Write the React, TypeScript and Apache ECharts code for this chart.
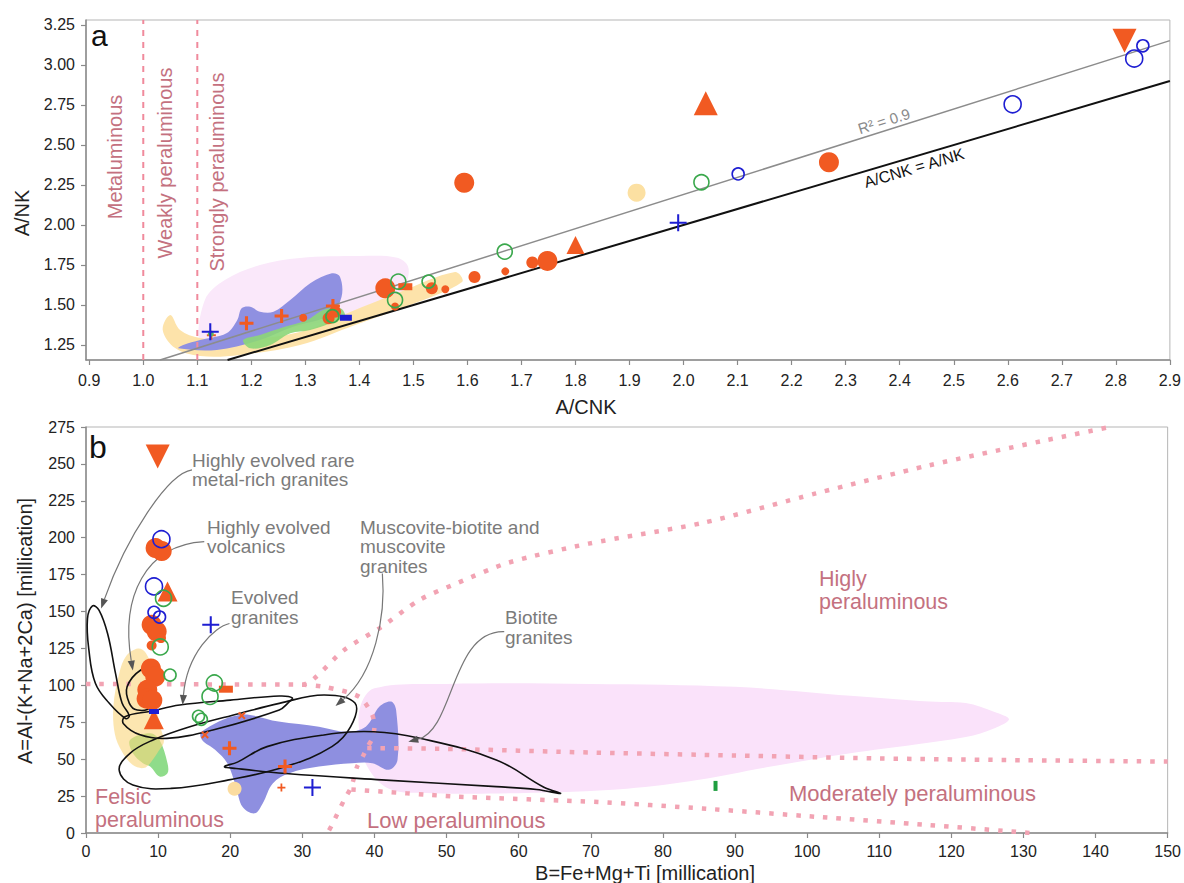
import React, { useEffect, useRef } from 'react';
import * as echarts from 'echarts';

// ================= Panel a : A/CNK vs A/NK =================
const aXTicks = [0.9, 1.0, 1.1, 1.2, 1.3, 1.4, 1.5, 1.6, 1.7, 1.8, 1.9, 2.0, 2.1, 2.2, 2.3, 2.4, 2.5, 2.6, 2.7, 2.8, 2.9];
const aYTicks = [1.25, 1.5, 1.75, 2.0, 2.25, 2.5, 2.75, 3.0, 3.25];

const aMetaBoundary = [[1.0, 1.156], [1.0, 3.281]];
const aStrongBoundary = [[1.1, 1.156], [1.1, 3.281]];
const aIdentityLine = [[1.156, 1.156], [2.9, 2.9]];
const aRegressionLine = [[1.031, 1.156], [2.9, 3.152]];

const aPinkField = [[1.105, 1.25], [1.114, 1.531], [1.151, 1.656], [1.216, 1.75], [1.29, 1.794], [1.401, 1.806], [1.47, 1.795], [1.49, 1.74], [1.487, 1.64], [1.466, 1.54], [1.346, 1.406], [1.216, 1.313], [1.142, 1.231]];
const aYellowField = [[1.05, 1.4375], [1.068, 1.344], [1.105, 1.294], [1.179, 1.281], [1.29, 1.331], [1.383, 1.456], [1.475, 1.581], [1.577, 1.706], [1.59, 1.644], [1.494, 1.5], [1.392, 1.375], [1.29, 1.25], [1.179, 1.1875], [1.105, 1.181], [1.059, 1.231], [1.036, 1.344]];
const aBlueField = [[1.065, 1.229], [1.136, 1.219], [1.216, 1.281], [1.277, 1.364], [1.346, 1.438], [1.367, 1.552], [1.364, 1.677], [1.349, 1.698], [1.309, 1.636], [1.272, 1.531], [1.241, 1.458], [1.216, 1.458], [1.198, 1.489], [1.182, 1.479], [1.174, 1.406], [1.154, 1.323], [1.105, 1.281], [1.074, 1.25]];
const aGreenField = [[1.185, 1.281], [1.198, 1.229], [1.235, 1.25], [1.272, 1.323], [1.309, 1.344], [1.346, 1.386], [1.373, 1.431], [1.364, 1.481], [1.333, 1.469], [1.303, 1.406], [1.259, 1.361], [1.216, 1.313]];

const aOrangeCircleL = [[1.594, 2.264], [2.269, 2.392], [1.448, 1.604], [1.748, 1.775]];
const aOrangeCircleM = [[1.534, 1.604], [1.72, 1.765], [1.613, 1.675], [1.343, 1.417], [1.355, 1.458]];
const aOrangeCircleS = [[1.67, 1.71], [1.559, 1.598], [1.466, 1.49], [1.296, 1.42]];
const aOrangeTriangleL = [[2.041, 2.76]];
const aOrangeTriangleS = [[1.80, 1.875]];
const aOrangeDownTriangle = [[2.816, 3.152]];
const aOrangePlus = [[1.191, 1.386], [1.256, 1.431], [1.351, 1.494]];
const aOrangePlusS = [[1.126, 1.31]];
const aOrangeBar = [[1.485, 1.614]];
const aBluePlus = [[1.99, 2.014], [1.124, 1.333]];
const aBlueBar = [[1.375, 1.42]];
const aGreenOpenL = [[1.472, 1.646], [1.466, 1.531], [1.669, 1.833], [2.033, 2.267]];
const aGreenOpenS = [[1.528, 1.646], [1.35, 1.43]];
const aGreenDot = [[1.125, 1.32]];
const aBlueOpenL = [[2.609, 2.754], [2.834, 3.04]];
const aBlueOpenS = [[2.101, 2.319], [2.85, 3.12]];
const aYellowDot = [[1.913, 2.202]];

// ================= Panel b : B vs A (millication) =================
const bPinkField = [[40, 98], [50, 101], [70, 101], [90, 99], [106, 93], [117, 89], [122, 88], [126, 82], [128, 77], [126, 71], [122, 65], [115, 60], [106, 54], [95, 45], [85, 36], [75, 30], [60, 27], [48, 27], [42, 30], [39, 45], [38, 65], [38, 85]];
const bYellowField = [[5.6, 120], [7.2, 125], [8.3, 122], [9.2, 110], [9.6, 90], [10.3, 72], [10.8, 62], [10.0, 55], [9.0, 48], [8.0, 44], [6.5, 46], [5.0, 55], [4.0, 67], [3.8, 86], [4.6, 108]];
const bGreenField = [[6.1, 63], [8.9, 67.6], [10.2, 63], [11.3, 47.3], [11.3, 40.5], [10.2, 38.2], [8.9, 45], [7.9, 47.3], [6.5, 54]];
const bBlueField = [[16.0, 68.6], [21.3, 80], [26.7, 75.5], [32.3, 72], [36.1, 68.6], [38.8, 72], [40.7, 85.6], [42.3, 89], [43, 83.4], [43.2, 49.5], [42, 42.8], [39.7, 47.3], [36.9, 47.3], [32.3, 45], [28.2, 40.5], [25.9, 33.6], [24.5, 20], [23.4, 13.3], [21.7, 17.8], [20.8, 31.4], [19.6, 47.3], [17.9, 56.4], [16.1, 63]];

const bBoundaryUpper = [[0, 101], [30, 100.5], [31.5, 104], [35.8, 124], [40.8, 139], [46.3, 158], [51.6, 169.5], [58.5, 183], [69.7, 196], [85.5, 210], [101.2, 230], [116.9, 249], [132.6, 265.5], [142, 275]];
const bBoundaryFelsic = [[30, 100.5], [33.1, 99], [37.9, 92.3], [39.7, 80], [40, 72], [39.7, 64], [39, 58], [38.4, 52], [37.6, 45], [36.8, 31.4], [35.8, 22.4], [34.1, 5.4], [33.5, 0]];
const bBoundaryModerate = [[39, 57.5], [50, 57], [70, 54.5], [90, 52.5], [110, 50.5], [130, 49.3], [150, 48.4]];
const bBoundaryLow = [[36.8, 29.5], [51.6, 24.6], [71, 21], [85.5, 16.6], [101.2, 11], [116.9, 5.4], [131, 0]];

const bLoopRareMetal = [[0.9, 153.8], [1.8, 151], [3.0, 135], [4.1, 108], [5.0, 88], [6.0, 79.5], [5.5, 77.5], [3.2, 88], [1.3, 101.4], [0.4, 124], [0.2, 145]];
const bLoopVolcanics = [[7.6, 110.4], [8.5, 108], [9.2, 97], [9.0, 85.5], [7.1, 83.3], [6.0, 88], [5.7, 99]];
const bLoopEvolved = [[5.4, 78.8], [9, 82.5], [13, 86.7], [20, 90], [26.8, 92.8], [28.6, 91.5], [28, 88], [26.8, 83.3], [17.6, 69.8], [11.2, 64.1], [7.5, 66.5], [5.2, 74]];
const bLoopMuscovite = [[4.6, 42.7], [6.1, 54], [9.3, 63], [14.4, 72], [21.3, 81], [26.8, 87.8], [33, 93.5], [37.3, 88], [36.7, 72], [34.1, 58.5], [27.7, 45], [19.8, 36], [11.8, 30.2], [6.5, 32.5]];
const bLoopBiotite = [[19.2, 45], [21, 48], [25.1, 58.5], [33, 66.4], [39.9, 68.6], [46.3, 64.2], [56.9, 49.5], [63.5, 31], [65.8, 26.8], [62.5, 29.5], [56.9, 31.4], [41, 36], [27.7, 40.3], [20.8, 43.7]];

// arrows: start, control 1, control 2, end (data coordinates)
const bArrows = [
  [14.7, 245.9, 11.4, 243.6, 5.6, 200.7, 2.1, 152],
  [16.4, 197.3, 8.2, 195, 4.8, 160, 6.5, 110],
  [19.9, 141.9, 17.8, 139.7, 14.0, 121.6, 13.4, 86.7],
  [41.1, 175.8, 41.6, 146.5, 40.0, 108.2, 34.6, 86],
  [58.0, 136.4, 50.6, 137.5, 51.1, 69.8, 44.7, 61.8],
];

const bOrangeDownTriangle = [[9.94, 255]];
const bOrangeTriangle = [[11.3, 163.5], [9.4, 77]];
const bOrangeCircleL = [[9.65, 193], [10.5, 191], [9.1, 141], [9.8, 136.5], [9.0, 111.5], [9.6, 106], [8.5, 97], [8.4, 91], [9.2, 90]];
const bOrangeCircleS = [[9.1, 127], [10.4, 132]];
const bOrangeBar = [[19.4, 97.4]];
const bOrangePlus = [[19.9, 57.4], [27.6, 45]];
const bOrangePlusS = [[27.1, 30.8]];
const bOrangeCross = [[21.6, 79.5], [16.5, 66.5]];
const bBlueOpenL = [[10.46, 199], [9.43, 167]];
const bBlueOpenS = [[9.43, 149.5], [10.2, 146.3]];
const bGreenOpenL = [[10.75, 159], [10.3, 126], [17.8, 101.6], [17.2, 92.5]];
const bGreenOpenS = [[11.66, 107], [16.0, 77], [15.6, 79]];
const bBluePlus = [[17.3, 141], [31.4, 30.8]];
const bBlueBar = [[9.43, 82.3]];
const bGreenBar = [[87.3, 31.9]];
const bYellowDot = [[20.6, 30]];

// ================= styling =================
const FONT = '"Liberation Sans", Arial, Helvetica, sans-serif';
const ORANGE = '#f15a22';
const BLUE = '#1e1ed2';
const GREEN = '#3aa84c';
const PINK_TEXT = '#c4717f';
const GRAY_TEXT = '#7b7b7b';
const PLUS_THIN = 'path://M4.4,0H5.6V4.4H10V5.6H5.6V10H4.4V5.6H0V4.4H4.4Z';
const PLUS_THICK = 'path://M3.9,0H6.1V3.9H10V6.1H6.1V10H3.9V6.1H0V3.9H3.9Z';

function field(name: string, pts: number[][], ax: number, fill: string, z = 1) {
  return {
    name, type: 'custom', xAxisIndex: ax, yAxisIndex: ax, z, silent: true,
    data: [pts[0]],
    renderItem: (_p: any, api: any) => ({
      type: 'polygon',
      shape: { points: pts.map((p) => api.coord(p)), smooth: 0.35 },
      style: { fill, stroke: 'none' },
    }),
  };
}

function loop(name: string, pts: number[][]) {
  return {
    name, type: 'custom', xAxisIndex: 1, yAxisIndex: 1, z: 4, silent: true,
    data: [pts[0]],
    renderItem: (_p: any, api: any) => ({
      type: 'polygon',
      shape: { points: pts.map((p) => api.coord(p)), smooth: 0.4 },
      style: { fill: 'none', stroke: '#111', lineWidth: 1.6 },
    }),
  };
}

function lineS(name: string, data: number[][], ax: number, color: string, width: number, type: any, smooth: any = false, z = 3) {
  return {
    name, type: 'line', xAxisIndex: ax, yAxisIndex: ax, data, z, silent: true,
    showSymbol: false, symbol: 'none', smooth,
    lineStyle: { color, width, type, cap: 'butt' },
  };
}

function sc(name: string, data: number[][], ax: number, symbol: string, size: any, itemStyle: any, rotate = 0) {
  return {
    name, type: 'scatter', xAxisIndex: ax, yAxisIndex: ax, data, z: 6, silent: true,
    symbol, symbolSize: size, symbolRotate: rotate, itemStyle,
  };
}

const filled = (c: string) => ({ color: c, opacity: 1 });
const open = (c: string, w = 1.6) => ({ color: 'rgba(0,0,0,0)', borderColor: c, borderWidth: w, opacity: 1 });

function txt(text: string, x: number, y: number, size: number, color: string, align = 'left', rotation = 0) {
  return {
    type: 'text', x, y, rotation, z: 100, silent: true,
    style: {
      text, fill: color, fontSize: size, fontFamily: FONT,
      align, verticalAlign: 'middle', textAlign: align, textVerticalAlign: 'middle',
    },
  };
}

function axisCommon() {
  return {
    axisLine: { show: true, onZero: false, lineStyle: { color: '#8a8a8a', width: 1.5 } },
    axisTick: { show: true, length: 5, lineStyle: { color: '#8a8a8a', width: 1.2 } },
    splitLine: { show: false },
  };
}

function buildOption() {
  const c = axisCommon();
  const labelStyle = { color: '#222', fontSize: 16, fontFamily: FONT };
  return {
    animation: false,
    backgroundColor: '#fff',
    grid: [
      { left: 86, right: 13, top: 20, bottom: 523, show: true, borderColor: '#b5b5b5', borderWidth: 1, backgroundColor: 'transparent' },
      { left: 86, right: 13, top: 427, bottom: 50, show: true, borderColor: '#b5b5b5', borderWidth: 1, backgroundColor: 'transparent' },
    ],
    xAxis: [
      {
        type: 'value', gridIndex: 0, min: 0.894, max: 2.9, ...c,
        axisTick: { ...c.axisTick, customValues: aXTicks },
        axisLabel: { ...labelStyle, margin: 12, customValues: aXTicks, formatter: (v: number) => v.toFixed(1) },
      },
      {
        type: 'value', gridIndex: 1, min: 0, max: 150, interval: 10, ...c,
        axisLabel: { ...labelStyle, margin: 10 },
      },
    ],
    yAxis: [
      {
        type: 'value', gridIndex: 0, min: 1.156, max: 3.281, ...c,
        axisTick: { ...c.axisTick, customValues: aYTicks },
        axisLabel: { ...labelStyle, margin: 11, customValues: aYTicks, formatter: (v: number) => v.toFixed(2) },
      },
      {
        type: 'value', gridIndex: 1, min: 0, max: 275, interval: 25, ...c,
        axisLabel: { ...labelStyle, margin: 11 },
      },
    ],
    series: [
      // ---- panel a fields
      field('a pink', aPinkField, 0, '#fae8fa'),
      field('a yellow', aYellowField, 0, '#fde3aa'),
      field('a blue', aBlueField, 0, '#8f90e1'),
      field('a green', aGreenField, 0, 'rgba(140,214,120,0.9)'),
      lineS('Metaluminous boundary', aMetaBoundary, 0, '#f08a9c', 2, [6, 6]),
      lineS('Strongly boundary', aStrongBoundary, 0, '#f08a9c', 2, [6, 6]),
      lineS('R2 regression', aRegressionLine, 0, '#8c8c8c', 1.5, 'solid'),
      lineS('A/CNK = A/NK', aIdentityLine, 0, '#111', 2, 'solid'),
      sc('a yellow dot', aYellowDot, 0, 'circle', 18, filled('#fce0a2')),
      sc('a orange L', aOrangeCircleL, 0, 'circle', 20, filled(ORANGE)),
      sc('a orange M', aOrangeCircleM, 0, 'circle', 12, filled(ORANGE)),
      sc('a orange S', aOrangeCircleS, 0, 'circle', 8, filled(ORANGE)),
      sc('a orange tri L', aOrangeTriangleL, 0, 'triangle', 24, filled(ORANGE)),
      sc('a orange tri S', aOrangeTriangleS, 0, 'triangle', 18, filled(ORANGE)),
      sc('a orange down', aOrangeDownTriangle, 0, 'triangle', 24, filled(ORANGE), 180),
      sc('a orange plus', aOrangePlus, 0, PLUS_THICK, 14, filled(ORANGE)),
      sc('a orange plus s', aOrangePlusS, 0, PLUS_THICK, 9, filled(ORANGE)),
      sc('a orange bar', aOrangeBar, 0, 'rect', [14, 7], filled(ORANGE)),
      sc('a green dot', aGreenDot, 0, 'circle', 6, filled('#5cb85c')),
      sc('a blue plus', aBluePlus, 0, PLUS_THIN, 17, filled(BLUE)),
      sc('a blue bar', aBlueBar, 0, 'rect', [12, 6], filled(BLUE)),
      sc('a green open L', aGreenOpenL, 0, 'circle', 15, open(GREEN)),
      sc('a green open S', aGreenOpenS, 0, 'circle', 13, open(GREEN)),
      sc('a blue open L', aBlueOpenL, 0, 'circle', 17, open(BLUE)),
      sc('a blue open S', aBlueOpenS, 0, 'circle', 12, open(BLUE)),

      // ---- panel b fields
      field('b pink', bPinkField, 1, '#fae2fa'),
      field('b green', bGreenField, 1, '#8fdc8a'),
      field('b yellow', bYellowField, 1, 'rgba(250,214,128,0.62)'),
      field('b blue', bBlueField, 1, '#8e8fe0'),
      lineS('upper boundary', bBoundaryUpper, 1, '#f2a3b3', 4.5, [4.5, 9], 0.25),
      lineS('felsic boundary', bBoundaryFelsic, 1, '#f2a3b3', 4.5, [4.5, 9], 0.25),
      lineS('moderate boundary', bBoundaryModerate, 1, '#f2a3b3', 4.5, [4.5, 9], 0.2),
      lineS('low boundary', bBoundaryLow, 1, '#f2a3b3', 4.5, [4.5, 9], 0.2),
      loop('rare metal', bLoopRareMetal),
      loop('volcanics', bLoopVolcanics),
      loop('evolved', bLoopEvolved),
      loop('muscovite', bLoopMuscovite),
      loop('biotite', bLoopBiotite),
      {
        name: 'arrows', type: 'custom', xAxisIndex: 1, yAxisIndex: 1, z: 5, silent: true,
        data: bArrows,
        renderItem: (_p: any, api: any) => {
          const pt = (i: number) => api.coord([api.value(i), api.value(i + 1)]);
          const s = pt(0), c1 = pt(2), c2 = pt(4), e = pt(6);
          const ang = Math.atan2(e[1] - c2[1], e[0] - c2[0]);
          const L = 10, W = 3.6;
          const b = [e[0] - L * Math.cos(ang), e[1] - L * Math.sin(ang)];
          const head = [e, [b[0] + W * Math.sin(ang), b[1] - W * Math.cos(ang)], [b[0] - W * Math.sin(ang), b[1] + W * Math.cos(ang)]];
          return {
            type: 'group',
            children: [
              { type: 'bezierCurve', shape: { x1: s[0], y1: s[1], cpx1: c1[0], cpy1: c1[1], cpx2: c2[0], cpy2: c2[1], x2: b[0], y2: b[1] }, style: { stroke: '#777', lineWidth: 1.2, fill: 'none' } },
              { type: 'polygon', shape: { points: head }, style: { fill: '#555' } },
            ],
          };
        },
      },
      sc('b yellow dot', bYellowDot, 1, 'circle', 14, filled('#fbdca0')),
      sc('b orange down', bOrangeDownTriangle, 1, 'triangle', 24, filled(ORANGE), 180),
      sc('b orange tri', bOrangeTriangle, 1, 'triangle', 20, filled(ORANGE)),
      sc('b orange L', bOrangeCircleL, 1, 'circle', 20, filled(ORANGE)),
      sc('b orange S', bOrangeCircleS, 1, 'circle', 10, filled(ORANGE)),
      sc('b orange bar', bOrangeBar, 1, 'rect', [14, 7], filled(ORANGE)),
      sc('b orange plus', bOrangePlus, 1, PLUS_THICK, 14, filled(ORANGE)),
      sc('b orange plus s', bOrangePlusS, 1, PLUS_THICK, 8, filled(ORANGE)),
      sc('b orange cross', bOrangeCross, 1, PLUS_THICK, 9, filled(ORANGE), 45),
      sc('b blue open L', bBlueOpenL, 1, 'circle', 17, open(BLUE)),
      sc('b blue open S', bBlueOpenS, 1, 'circle', 12, open(BLUE)),
      sc('b green open L', bGreenOpenL, 1, 'circle', 16, open(GREEN)),
      sc('b green open S', bGreenOpenS, 1, 'circle', 12, open(GREEN)),
      sc('b blue plus', bBluePlus, 1, PLUS_THIN, 17, filled(BLUE)),
      sc('b blue bar', bBlueBar, 1, 'rect', [10, 5], filled(BLUE)),
      sc('b green bar', bGreenBar, 1, 'rect', [4, 10], filled('#1f9e40')),
    ],
    graphic: [
      // panel letters
      txt('a', 91, 35, 30, '#111'),
      txt('b', 89, 447, 32, '#111'),
      // axis names
      txt('A/CNK', 586, 407, 20, '#222', 'center'),
      txt('A/NK', 22, 213, 20, '#222', 'center', Math.PI / 2),
      txt('B=Fe+Mg+Ti [millication]', 645, 873, 20, '#222', 'center'),
      txt('A=Al-(K+Na+2Ca) [millication]', 25, 631, 20, '#222', 'center', Math.PI / 2),
      // panel a region labels
      txt('Metaluminous', 115, 157, 20, PINK_TEXT, 'center', Math.PI / 2),
      txt('Weakly peraluminous', 165, 163, 20, PINK_TEXT, 'center', Math.PI / 2),
      txt('Strongly peraluminous', 217, 172, 20, PINK_TEXT, 'center', Math.PI / 2),
      txt('R² = 0.9', 884, 121, 15, '#8a8a8a', 'center', 17.6 * Math.PI / 180),
      txt('A/CNK = A/NK', 914, 168, 16, '#111', 'center', 16.5 * Math.PI / 180),
      // panel b field labels
      txt('Felsic', 95, 797, 21.5, PINK_TEXT),
      txt('peraluminous', 95, 820, 21.5, PINK_TEXT),
      txt('Low peraluminous', 367, 820, 22, PINK_TEXT),
      txt('Moderately peraluminous', 789, 793, 22, PINK_TEXT),
      txt('Higly', 819, 579, 21.5, PINK_TEXT),
      txt('peraluminous', 819, 602, 21.5, PINK_TEXT),
      // panel b annotations
      txt('Highly evolved rare', 192, 460, 19, GRAY_TEXT),
      txt('metal-rich granites', 192, 479.5, 19, GRAY_TEXT),
      txt('Highly evolved', 207, 527, 19, GRAY_TEXT),
      txt('volcanics', 207, 546.5, 19, GRAY_TEXT),
      txt('Evolved', 231, 597.5, 19, GRAY_TEXT),
      txt('granites', 231, 617, 19, GRAY_TEXT),
      txt('Muscovite-biotite and', 360, 527, 19, GRAY_TEXT),
      txt('muscovite', 360, 546.5, 19, GRAY_TEXT),
      txt('granites', 360, 566, 19, GRAY_TEXT),
      txt('Biotite', 505, 617.5, 19, GRAY_TEXT),
      txt('granites', 505, 637, 19, GRAY_TEXT),
    ],
  };
}

export default function App() {
  const ref = useRef<HTMLDivElement>(null);
  useEffect(() => {
    if (!ref.current) return;
    const chart = echarts.init(ref.current, null, { renderer: 'svg' });
    chart.setOption(buildOption() as any);
    return () => chart.dispose();
  }, []);
  return (
    <div
      ref={ref}
      style={{ position: 'absolute', left: 0, top: 0, width: 1184, height: 883, background: '#fff' }}
    />
  );
}
